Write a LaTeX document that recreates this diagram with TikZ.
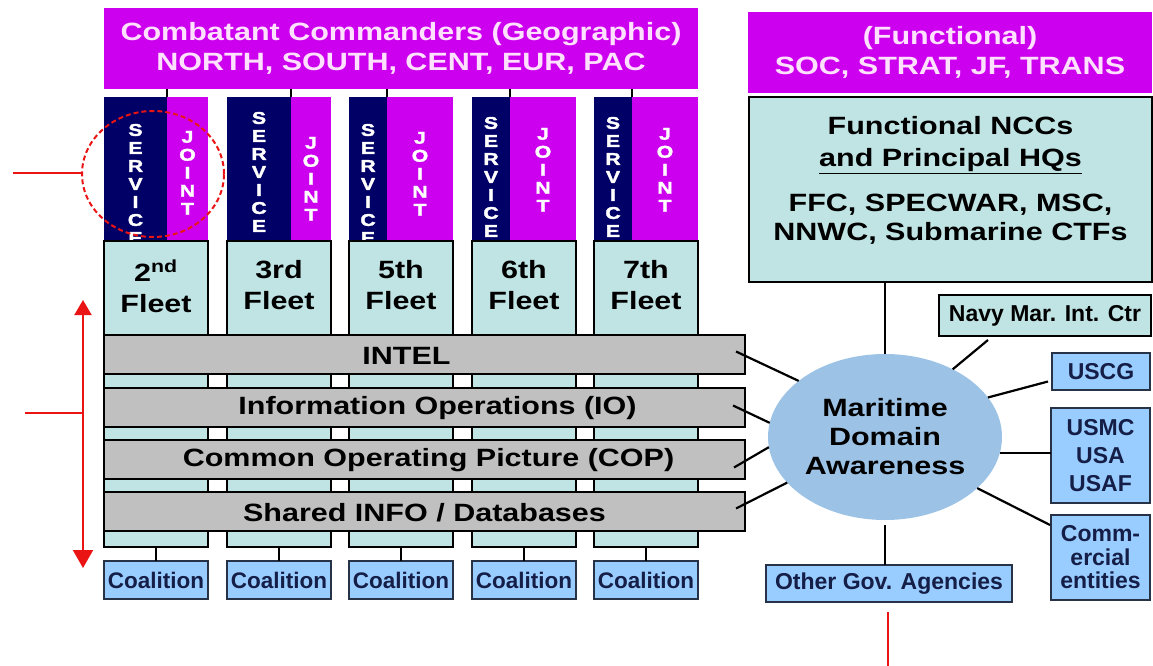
\documentclass[tikz,border=0pt]{standalone}
\usepackage{fontspec}
\setmainfont{Liberation Sans}
\newfontfamily\widefont{Liberation Sans}[FakeStretch=1.22]
\newfontfamily\letterfont{Liberation Sans}[FakeStretch=1.25,FakeBold=2]
\usetikzlibrary{calc,arrows.meta,shapes.geometric}
\definecolor{mag}{RGB}{204,0,238}
\definecolor{navyc}{RGB}{0,0,102}
\definecolor{teal1}{RGB}{192,228,228}
\definecolor{barg}{RGB}{192,192,192}
\definecolor{lblue}{RGB}{153,204,255}
\definecolor{ellc}{RGB}{156,195,230}
\definecolor{boxb}{RGB}{40,50,70}
\definecolor{navytext}{RGB}{20,30,70}
\definecolor{magtext}{RGB}{255,225,255}
\definecolor{redc}{RGB}{235,20,20}
\begin{document}
\begin{tikzpicture}[x=1pt,y=-1pt,
  every node/.style={inner sep=0pt,outer sep=0pt},
  magbox/.style={fill=mag,draw=none,text=magtext,align=center,anchor=north west,
    font=\widefont\bfseries\fontsize{25}{30}\selectfont},
  svc/.style={fill=navyc,draw=none,anchor=north west,minimum height=144},
  jnt/.style={fill=mag,draw=none,anchor=north west,minimum height=144},
  letters/.style={text=white,align=center,anchor=north,font=\letterfont\bfseries\fontsize{17}{18}\selectfont},
  fleet/.style={fill=teal1,draw=black,line width=1.5pt,anchor=north west},
  bigtext/.style={align=center,font=\widefont\bfseries\fontsize{25}{31}\selectfont},
  bar/.style={fill=barg,draw=black,line width=1.5pt,anchor=north west,minimum width=641,minimum height=39},
  lbox/.style={fill=lblue,draw=boxb,line width=1.5pt,anchor=north west,align=center,text=navytext,
    font=\bfseries\fontsize{23}{28}\selectfont},
  conn/.style={draw=black,line width=2.2pt},
  thin/.style={draw=black,line width=1.5pt},
  redl/.style={draw=redc,line width=2pt},
]
\useasboundingbox (0,0) rectangle (1153,666);

% top command boxes
\node[magbox,minimum width=594,minimum height=81] (cc) at (104,8)
  {Combatant Commanders (Geographic)\\NORTH, SOUTH, CENT, EUR, PAC};
\node[magbox,minimum width=404,minimum height=81] (fc) at (748,12)
  {(Functional)\\SOC, STRAT, JF, TRANS};

% fleet columns
\foreach \i/\x/\sw/\jw/\st/\jt/\lab in {
  1/104/63/41/124/131/2\textsuperscript{nd},
  2/227/64/40/112/137/3rd,
  3/349/38/66/124/132/5th,
  4/472/38/66/117/128/6th,
  5/594/38/66/117/128/7th}{
  \node[svc,minimum width=\sw] (s\i) at (\x,97) {};
  \node[jnt,minimum width=\jw] (j\i) at (s\i.north east) {};
  \node[letters] (sl\i) at ($(s\i.north)+(0,\st-97)$) {S\\E\\R\\V\\I\\C\\E};
  \node[letters] (jl\i) at ($(j\i.north)+(0,\jt-97)$) {J\\O\\I\\N\\T};
  \draw[thin] (s\i.north east) -- (s\i.north east |- cc.south);
  \node[fleet,minimum width=104,minimum height=306] (f\i) at (\x,241) {};
  \node[bigtext,anchor=north] (ft\i) at ($(f\i.north)+(0,19)$) {\lab\\Fleet};
  \node[lbox,minimum width=104,minimum height=38,font=\bfseries\fontsize{22.5}{26}\selectfont] (co\i) at (\x,561) {Coalition};
  \draw[thin] (f\i.south) -- (co\i.north);
}

% horizontal bars
\node[bar] (intel) at (104,335) {};
\node[bar] (io) at (104,388) {};
\node[bar] (cop) at (104,440) {};
\node[bar] (sh) at (104,492) {};
\node[bigtext] (intelt) at ($(intel.center)+(-18,1)$) {INTEL};
\node[bigtext] (iot) at ($(io.center)+(13,1)$) {Information Operations (IO)};
\node[bigtext] (copt) at ($(cop.center)+(4,1)$) {Common Operating Picture (COP)};
\node[bigtext] (sht) at ($(sh.center)+(0,1)$) {Shared INFO / Databases};

% functional side
\node[fleet,minimum width=403,minimum height=185] (ncc) at (749,97) {};
\node[bigtext,anchor=north,font=\widefont\bfseries\fontsize{25}{32}\selectfont] (ncct) at ($(ncc.north)+(0,19)$)
  {Functional NCCs\\\underline{and Principal HQs}};
\node[bigtext,anchor=north,font=\widefont\bfseries\fontsize{25}{29}\selectfont] (nccb) at ($(ncc.north)+(0,97)$)
  {FFC, SPECWAR, MSC,\\NNWC, Submarine CTFs};

\node[ellipse,fill=ellc,minimum width=234,minimum height=166,align=center,
  font=\widefont\bfseries\fontsize{25}{29}\selectfont] (mda) at (885,437) {Maritime\\Domain\\Awareness};

\node[lbox,fill=teal1,draw=black,text=black,minimum width=212,minimum height=41] (navy) at (939,295) {Navy Mar. Int. Ctr};
\node[lbox,minimum width=98,minimum height=37] (uscg) at (1052,353) {USCG};
\node[lbox,minimum width=99,minimum height=95] (usmc) at (1051,408) {USMC\\USA\\USAF};
\node[lbox,minimum width=99,minimum height=85,font=\bfseries\fontsize{23}{23.5}\selectfont] (comm) at (1051,515) {Comm-\\ercial\\entities};
\node[lbox,minimum width=246,minimum height=37] (other) at (766,565) {Other Gov. Agencies};

% connectors to MDA
\draw[conn] ($(intel.east)+(-9,-3)$) -- (mda.147);
\draw[conn] ($(io.east)+(-12,-2)$) -- (mda.173);
\draw[conn] ($(cop.east)+(-11,8)$) -- (mda.185);
\draw[conn] ($(sh.east)+(-9,-3)$) -- (mda.205);
\draw[conn] (mda.north) -- (mda.north |- ncc.south);
\draw[conn] ($(navy.south west)+(49,4)$) -- (mda.45);
\draw[conn] (mda.21) -- ($(uscg.west)+(-4,10)$);
\draw[conn] (mda.-8) -- (mda.-8 -| usmc.west);
\draw[conn] (mda.-29) -- ($(comm.north west)+(-1,10)$);
\draw[conn] ($(mda.south)+(0,5)$) -- (mda.south |- other.north);

% red annotations
\node[ellipse,draw=redc,dash pattern=on 5pt off 3pt,line width=2pt,minimum width=142,minimum height=126] (hl) at (153,174) {};
\coordinate (hlend) at (13,173);
\draw[redl] (hlend) -- (hlend -| hl.west);
\coordinate (atop) at (83,300);
\coordinate (abot) at (83,568);
\draw[redl,{Triangle[width=17pt,length=15pt]}-{Triangle[width=20pt,length=18pt]}] (atop) -- (abot);
\coordinate (amid) at (83,413);
\coordinate (aleft) at (25,413);
\draw[redl] (aleft) -- (amid);
\coordinate (r1) at (888,612);
\coordinate (r2) at (888,666);
\draw[redl] (r1) -- (r2);
\end{tikzpicture}
\end{document}
